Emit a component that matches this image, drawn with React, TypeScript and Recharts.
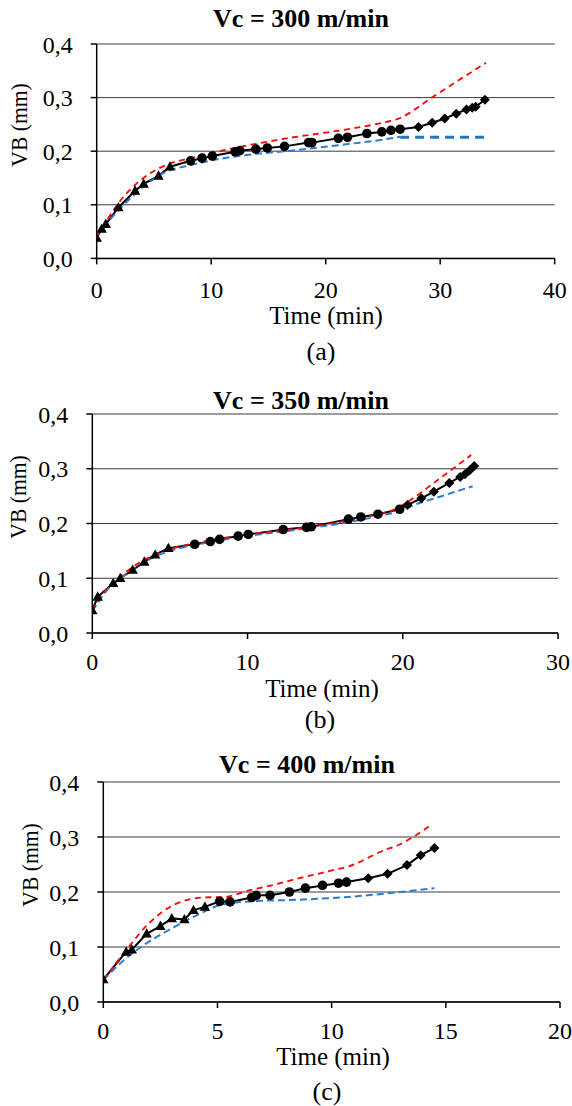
import React from 'react'
import { ComposedChart, Line, Scatter, XAxis, YAxis, CartesianGrid } from 'recharts'

// (a) Vc = 300 m/min
const triTimeA = [0, 0.44, 0.8, 1.9, 3.35, 4.1, 5.4, 6.4]
const triWearA = [0.038, 0.055, 0.064, 0.095, 0.126, 0.139, 0.154, 0.171]
const circTimeA = [8.2, 9.2, 10.1, 12.1, 12.5, 13.9, 14.9, 16.4, 18.5, 18.8, 21.1, 21.9, 23.6, 24.9, 25.7, 26.5]
const circWearA = [0.182, 0.187, 0.191, 0.199, 0.201, 0.204, 0.206, 0.209, 0.216, 0.216, 0.224, 0.226, 0.233, 0.236, 0.239, 0.241]
const diamTimeA = [28.1, 29.3, 30.4, 31.4, 32.3, 32.8, 33.1, 33.9]
const diamWearA = [0.245, 0.253, 0.261, 0.27, 0.278, 0.281, 0.283, 0.296]
const redTimeA = [0, 1, 1.9, 3, 4.2, 6.4, 8.2, 11.1, 14, 16.9, 19.8, 22.2, 24.5, 26.5, 29.4, 34]
const redWearA = [0.04, 0.075, 0.103, 0.13, 0.152, 0.177, 0.187, 0.202, 0.214, 0.225, 0.234, 0.242, 0.251, 0.262, 0.302, 0.365]
const blueTimeA = [0, 1, 1.9, 3, 4.1, 5.8, 8.2, 11.1, 14, 16.9, 19.5, 22.2, 24.5, 26.5]
const blueWearA = [0.04, 0.068, 0.09, 0.113, 0.134, 0.159, 0.174, 0.187, 0.195, 0.201, 0.207, 0.214, 0.22, 0.227]
const blueFlatTimeA = [26.5, 34]
const blueFlatWearA = [0.226, 0.226]

// (b) Vc = 350 m/min
const triTimeB = [0, 0.35, 1.35, 1.8, 2.6, 3.35, 4.05, 4.9]
const triWearB = [0.041, 0.066, 0.091, 0.1, 0.115, 0.13, 0.143, 0.155]
const circTimeB = [6.6, 7.6, 8.2, 9.4, 10.05, 12.3, 13.8, 14.1, 16.5, 17.3, 18.4, 19.8]
const circWearB = [0.162, 0.167, 0.171, 0.177, 0.18, 0.189, 0.193, 0.194, 0.208, 0.212, 0.217, 0.226]
const diamTimeB = [20.3, 21.2, 22.0, 23.0, 23.7, 24.0, 24.3, 24.6]
const diamWearB = [0.234, 0.246, 0.258, 0.274, 0.285, 0.29, 0.297, 0.305]
const redTimeB = [0, 1, 2, 3, 4, 5, 7, 10, 13, 16, 18, 19.5, 20.5, 22, 24.4]
const redWearB = [0.04, 0.083, 0.108, 0.128, 0.142, 0.153, 0.166, 0.18, 0.19, 0.203, 0.214, 0.226, 0.243, 0.274, 0.325]
const blueTimeB = [0, 1, 2, 3, 4, 5, 7, 10, 13, 16, 19, 20, 20.5, 22.4, 24.5]
const blueWearB = [0.04, 0.08, 0.104, 0.124, 0.139, 0.15, 0.163, 0.177, 0.188, 0.2, 0.217, 0.224, 0.231, 0.249, 0.268]

// (c) Vc = 400 m/min
const triTimeC = [0, 1.0, 1.25, 1.9, 2.5, 3.0, 3.55, 3.95, 4.45]
const triWearC = [0.041, 0.091, 0.095, 0.124, 0.138, 0.152, 0.15, 0.167, 0.173]
const circTimeC = [5.1, 5.55, 6.5, 6.7, 7.3, 8.15, 8.85, 9.6, 10.3, 10.65]
const circWearC = [0.183, 0.182, 0.19, 0.194, 0.194, 0.2, 0.207, 0.212, 0.216, 0.218]
const diamTimeC = [11.6, 12.45, 13.3, 13.9, 14.5]
const diamWearC = [0.225, 0.233, 0.249, 0.267, 0.28]
const redTimeC = [0, 1, 1.9, 3.06, 4.4, 5.3, 6.4, 7.75, 8.2, 10.2, 10.7, 12.3, 12.9, 14.25]
const redWearC = [0.04, 0.094, 0.139, 0.176, 0.19, 0.191, 0.203, 0.216, 0.221, 0.241, 0.246, 0.276, 0.285, 0.319]
const blueTimeC = [0, 0.9, 1.75, 3.1, 4.2, 5.1, 6.5, 8.6, 10.7, 13, 14.5]
const blueWearC = [0.04, 0.076, 0.103, 0.136, 0.16, 0.176, 0.183, 0.186, 0.191, 0.2, 0.207]

const yTicks = [0, 0.1, 0.2, 0.3, 0.4]
const xTicksA = [0, 10, 20, 30, 40]
const xTicksB = [0, 10, 20, 30]
const xTicksC = [0, 5, 10, 15, 20]

const zip = (t: number[], vb: number[]) => t.map((x, i) => ({ t: x, vb: vb[i] }))
const fmt = (v: number) => v.toFixed(1).replace('.', ',')

const FONT = '"Liberation Serif", "Times New Roman", serif'

const Tri = (p: any) => (
  <path d={`M${p.cx},${p.cy - 5.5}L${p.cx + 5.2},${p.cy + 3.8}L${p.cx - 5.2},${p.cy + 3.8}Z`} fill="#000" />
)
const Dot = (p: any) => <circle cx={p.cx} cy={p.cy} r={4.8} fill="#000" />
const Diam = (p: any) => (
  <path d={`M${p.cx},${p.cy - 5}L${p.cx + 5},${p.cy}L${p.cx},${p.cy + 5}L${p.cx - 5},${p.cy}Z`} fill="#000" />
)

function Txt({ x, y, size, bold, rotate, children }: any) {
  return (
    <div
      style={{
        position: 'absolute',
        left: x,
        top: y,
        transform: `translate(-50%, -50%)${rotate ? ' rotate(-90deg) scaleX(0.9)' : ''}`,
        fontSize: size,
        fontWeight: bold ? 'bold' : 'normal',
        lineHeight: 1,
        whiteSpace: 'nowrap',
        color: '#000',
      }}
    >
      {children}
    </div>
  )
}

function Panel(props: any) {
  const { plot, xMax, xTicks, tri, circ, diam, red, blue, blueFlat, tickGap, title, titleX, titleY, timeX, timeY, capX, capY, cap, vbX, vbY } = props
  const pad = 60
  const height = plot.bottom - plot.top + pad * 2
  const measured = [...tri, ...circ, ...diam]
  return (
    <>
      <div style={{ position: 'absolute', left: 0, top: plot.top - pad }}>
        <ComposedChart
          width={572}
          height={height}
          margin={{ top: pad, right: 572 - plot.right, bottom: pad - 30, left: 0 }}
        >
          <CartesianGrid vertical={false} stroke="#3a3a3a" strokeWidth={1} />
          <XAxis
            type="number"
            dataKey="t"
            domain={[0, xMax]}
            ticks={xTicks}
            height={30}
            tickSize={6}
            tickMargin={tickGap}
            axisLine={{ stroke: '#000', strokeWidth: 1.5 }}
            tickLine={{ stroke: '#000', strokeWidth: 1.5 }}
            tick={{ fill: '#000', fontSize: 24, fontFamily: FONT }}
            allowDataOverflow
          />
          <YAxis
            type="number"
            dataKey="vb"
            domain={[0, 0.4]}
            ticks={yTicks}
            width={plot.left}
            tickSize={6}
            tickMargin={18}
            tickFormatter={fmt}
            axisLine={{ stroke: '#000', strokeWidth: 1.5 }}
            tickLine={{ stroke: '#000', strokeWidth: 1.5 }}
            tick={{ fill: '#000', fontSize: 24, fontFamily: FONT }}
          />
          <Line data={measured} dataKey="vb" type="linear" stroke="#000" strokeWidth={2} dot={false} activeDot={false} isAnimationActive={false} />
          <Scatter data={tri} dataKey="vb" shape={Tri} isAnimationActive={false} />
          <Scatter data={circ} dataKey="vb" shape={Dot} isAnimationActive={false} />
          <Scatter data={diam} dataKey="vb" shape={Diam} isAnimationActive={false} />
          <Line data={blue} dataKey="vb" type="monotone" stroke="#2E7BCF" strokeWidth={2} strokeDasharray="7 4" dot={false} activeDot={false} isAnimationActive={false} />
          {blueFlat && (
            <Line data={blueFlat} dataKey="vb" type="linear" stroke="#1F77C8" strokeWidth={3} strokeDasharray="9 6" dot={false} activeDot={false} isAnimationActive={false} />
          )}
          <Line data={red} dataKey="vb" type="monotone" stroke="#FF0000" strokeWidth={1.8} strokeDasharray="6 4.5" dot={false} activeDot={false} isAnimationActive={false} />
        </ComposedChart>
      </div>
      <Txt x={titleX} y={titleY} size={26} bold>{title}</Txt>
      <Txt x={vbX} y={vbY} size={24} rotate>VB (mm)</Txt>
      <Txt x={timeX} y={timeY} size={25}>Time (min)</Txt>
      <Txt x={capX} y={capY} size={26}>{cap}</Txt>
    </>
  )
}

export default function App() {
  return (
    <div style={{ position: 'absolute', left: 0, top: 0, width: 572, height: 1106, background: '#fff', fontFamily: FONT }}>
      <Panel
        plot={{ left: 96.7, right: 554.7, top: 44.3, bottom: 258.7 }}
        xMax={40}
        xTicks={xTicksA}
        tickGap={17}
        tri={zip(triTimeA, triWearA)}
        circ={zip(circTimeA, circWearA)}
        diam={zip(diamTimeA, diamWearA)}
        red={zip(redTimeA, redWearA)}
        blue={zip(blueTimeA, blueWearA)}
        blueFlat={zip(blueFlatTimeA, blueFlatWearA)}
        title="Vc = 300 m/min"
        titleX={301}
        titleY={18.5}
        vbX={19}
        vbY={124.5}
        timeX={326}
        timeY={315}
        cap="(a)"
        capX={321}
        capY={352}
      />
      <Panel
        plot={{ left: 92.3, right: 558, top: 414.3, bottom: 633.3 }}
        xMax={30}
        xTicks={xTicksB}
        tickGap={14.4}
        tri={zip(triTimeB, triWearB)}
        circ={zip(circTimeB, circWearB)}
        diam={zip(diamTimeB, diamWearB)}
        red={zip(redTimeB, redWearB)}
        blue={zip(blueTimeB, blueWearB)}
        title="Vc = 350 m/min"
        titleX={301}
        titleY={400.5}
        vbX={18}
        vbY={497}
        timeX={322}
        timeY={688}
        cap="(b)"
        capX={320}
        capY={720}
      />
      <Panel
        plot={{ left: 103.3, right: 560, top: 781.7, bottom: 1001.7 }}
        xMax={20}
        xTicks={xTicksC}
        tickGap={14}
        tri={zip(triTimeC, triWearC)}
        circ={zip(circTimeC, circWearC)}
        diam={zip(diamTimeC, diamWearC)}
        red={zip(redTimeC, redWearC)}
        blue={zip(blueTimeC, blueWearC)}
        title="Vc = 400 m/min"
        titleX={307}
        titleY={764.5}
        vbX={30}
        vbY={865}
        timeX={333}
        timeY={1056}
        cap="(c)"
        capX={327}
        capY={1092}
      />
    </div>
  )
}
